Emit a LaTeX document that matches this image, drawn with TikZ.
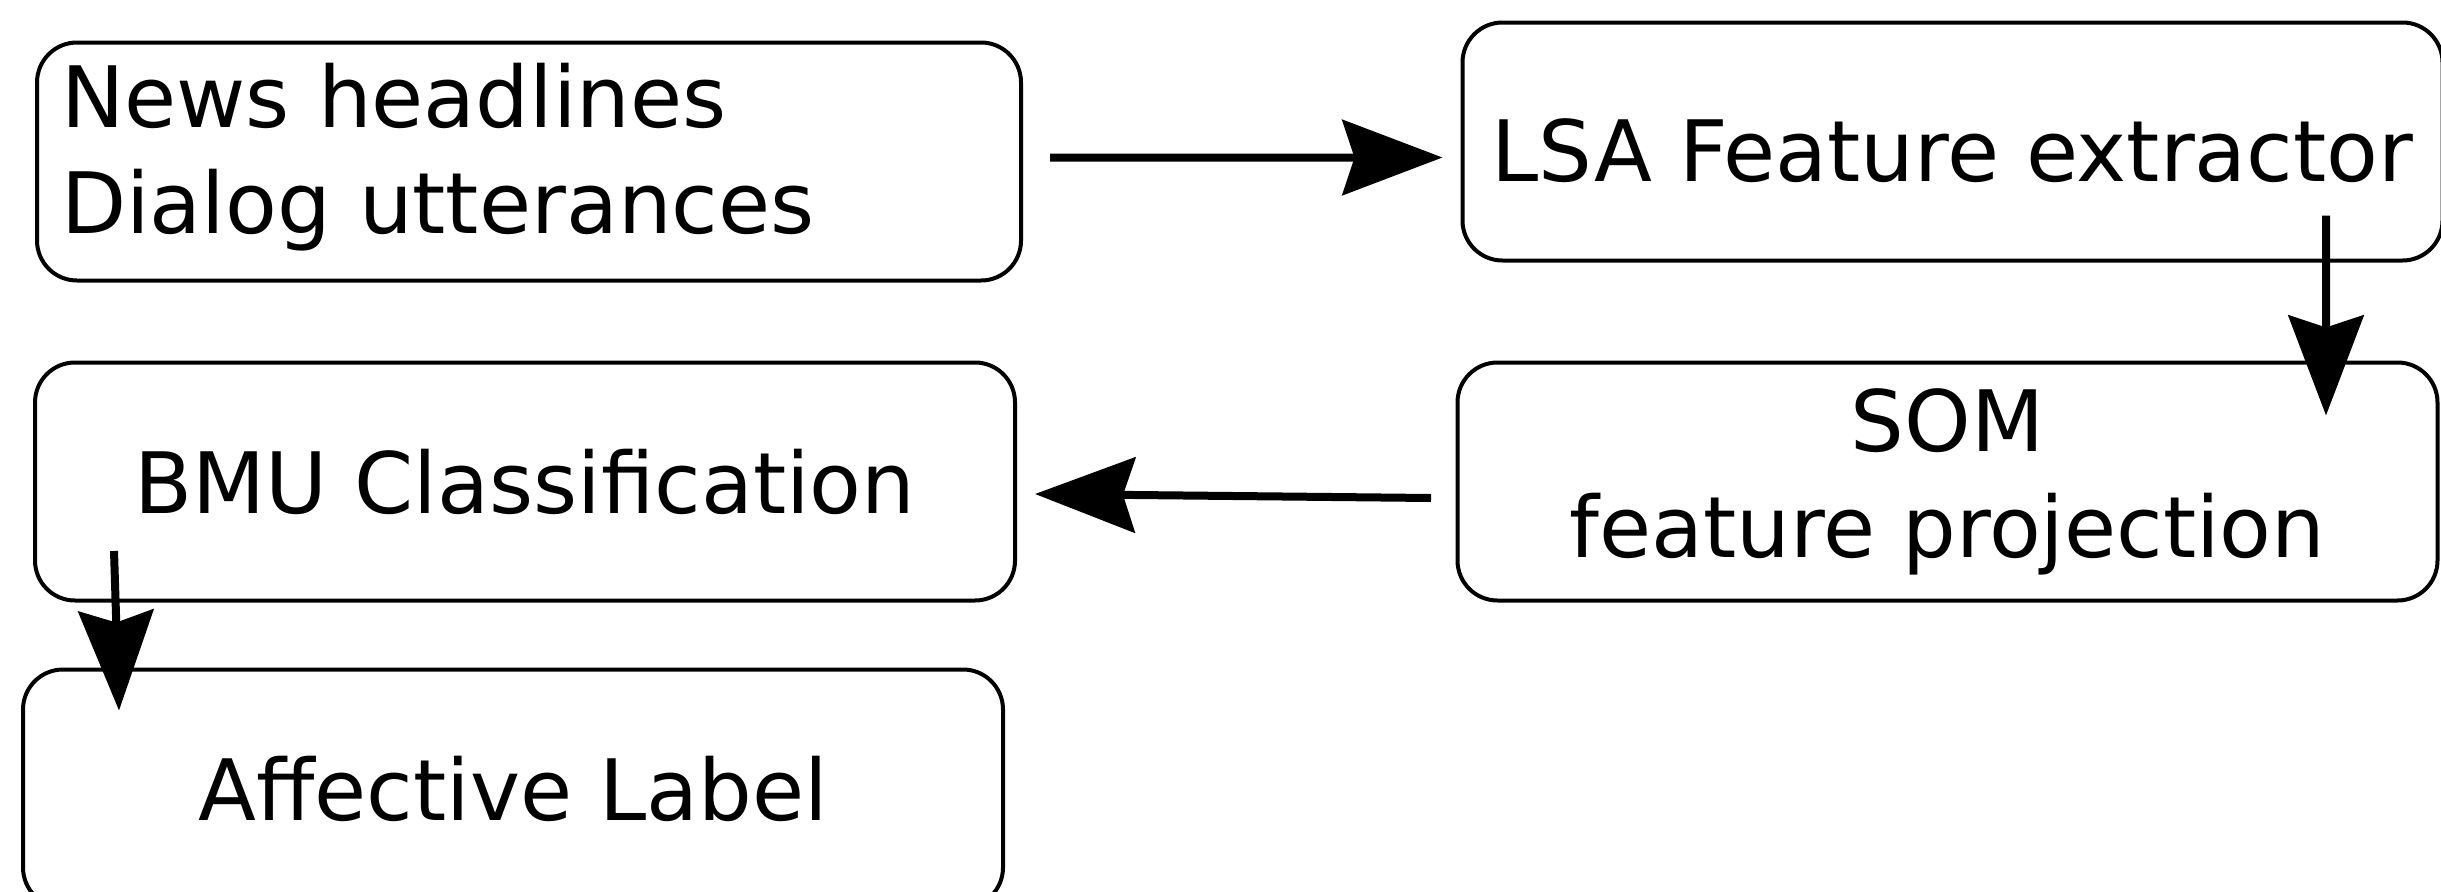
\documentclass[tikz,border=0pt]{standalone}
\usepackage{fontspec}
\setmainfont{DejaVu Sans}
\usetikzlibrary{positioning,calc,arrows.meta}

\begin{document}
\begin{tikzpicture}[x = 0.1mm, y = -0.1mm, font = \fontsize{24.1pt}{30.2pt}\selectfont,
        box/.style = {draw, line width = 0.04cm, rounded corners = 0.4cm, minimum width = 9.8cm, minimum height = 2.38cm, inner sep = 0pt},
        flow/.style = {line width = 0.08cm, -{Stealth[length = 1cm, width = 0.75cm, inset = 0.12cm]}}]
                \useasboundingbox (0,0) rectangle (2441,891);

                \node[box, align = left, text width = 9.36cm, inner xsep = 0.24cm] (news) at (529,161.5) {News headlines\\Dialog utterances\vspace{0.08cm}};
                \node[box, text height = 0.81cm] (lsa) [right = 4.375cm of news, yshift = 0.2cm] {LSA Feature extractor};
                \node[box] (bmu) [below = 0.78cm of news, xshift = -0.04cm] {BMU Classification};
                \node[box, align = center] (som) [below = 0.98cm of lsa, xshift = -0.05cm] {SOM\\feature projection};
                \node[box] (label) [below = 0.65cm of bmu, xshift = -0.12cm] {Affective Label};

                \draw[flow] ($(news.east)+(27,-4)$) -- ($(lsa.west)+(-18,16)$);
                \draw[flow] ($(lsa.south east)+(-118.5,-47)$) -- ($(som.north east)+(-113.5,55)$);
                \draw[flow] ($(som.west)+(-24.5,16.5)$) -- ($(bmu.east)+(18,12.5)$);
                \draw[flow] ($(bmu.south west)+(81,-51.5)$) -- ($(label.north west)+(98,43)$);

            \end{tikzpicture}
\end{document}
